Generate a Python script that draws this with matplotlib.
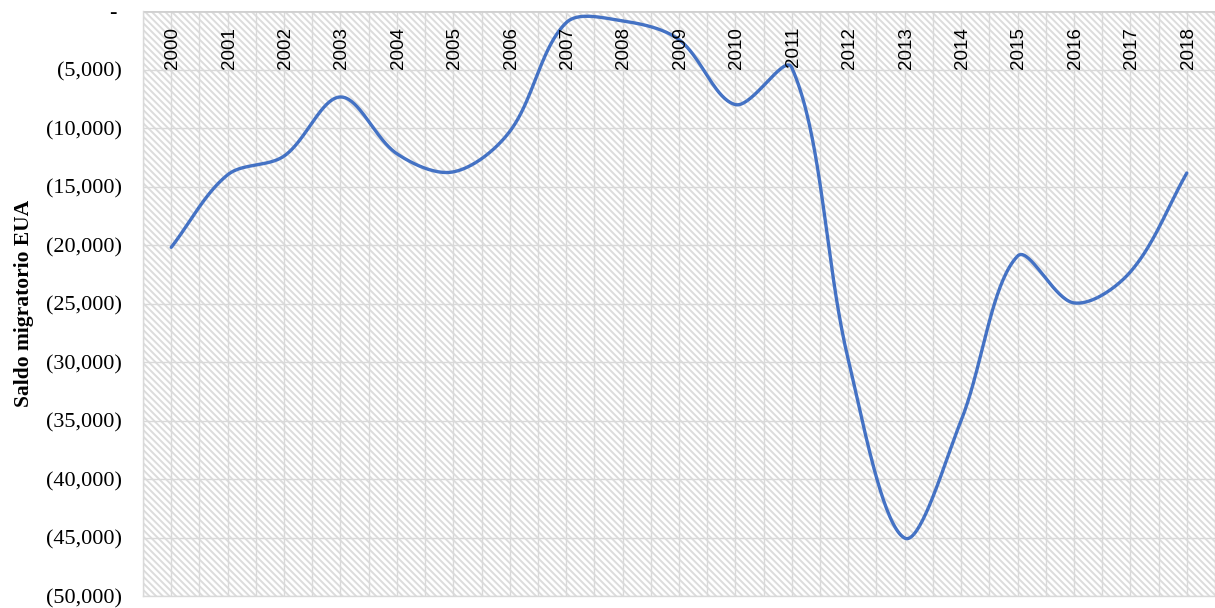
"""
Saldo migratorio EUA, 2000-2018: smoothed line over a hatched plot area.
"""

import numpy as np
import matplotlib.pyplot as plt
from matplotlib.patches import Rectangle
from matplotlib.ticker import FuncFormatter

years = [str(y) for y in range(2000, 2019)]
saldo = [-20200, -14000, -12400, -7350, -12200, -13750, -10300, -1000,
         -850, -2450, -8000, -4850, -29800, -45050, -35000, -20950,
         -24950, -22300, -13850]

LINE_COLOR = '#4472C4'
GRID_COLOR = '#d9d9d9'


def smooth(xs, ys, sx=56.4, sy=58.5 / 5000, steps=40):
    """Excel-like smoothing: Bezier segments, handles scaled by segment length."""
    p = np.column_stack([np.asarray(xs, float) * sx, np.asarray(ys, float) * sy])
    n = len(p)
    outc = np.zeros_like(p)
    inc = np.zeros_like(p)
    for i in range(n):
        prev = p[max(i - 1, 0)]
        nxt = p[min(i + 1, n - 1)]
        tan = nxt - prev
        a = np.linalg.norm(p[i] - prev)
        b = np.linalg.norm(nxt - p[i])
        if a + b == 0:
            continue
        outc[i] = p[i] + tan * b / (a + b) / 3
        inc[i] = p[i] - tan * a / (a + b) / 3
    t = np.linspace(0, 1, steps)[:, None]
    out = []
    for i in range(n - 1):
        p0, p1, p2, p3 = p[i], outc[i], inc[i + 1], p[i + 1]
        seg = ((1 - t) ** 3 * p0 + 3 * (1 - t) ** 2 * t * p1
               + 3 * (1 - t) * t ** 2 * p2 + t ** 3 * p3)
        out.append(seg if i == 0 else seg[1:])
    pts = np.vstack(out)
    return pts[:, 0] / sx, pts[:, 1] / sy


def fmt(v, pos):
    if abs(v) < 1e-6:
        return '-\u2009'
    return '({:,.0f})'.format(abs(v))


plt.rcParams['hatch.linewidth'] = 1.4

fig = plt.figure(figsize=(12.15, 6.08), dpi=100)
ax = fig.add_axes([143 / 1215, 12 / 608, 1 - 143 / 1215, 585 / 608])

xpos = np.arange(len(years))
ax.set_xlim(-0.5, len(years) - 0.5)
ax.set_ylim(-50000, 0)

# hatched plot area
ax.add_patch(Rectangle((0, 0), 1, 1, transform=ax.transAxes,
                       facecolor='white', edgecolor='#dcdcdc',
                       hatch='\\' * 5, lw=0, zorder=0))

# gridlines: every half category vertically, every 5,000 horizontally
for gx in np.arange(-0.5, len(years), 0.5):
    ax.axvline(gx, color=GRID_COLOR, lw=1.0, zorder=1)
for gy in np.arange(-50000, 1, 5000):
    ax.axhline(gy, color=GRID_COLOR, lw=1.0, zorder=1)
ax.axhline(0, color='#d0d0d0', lw=2.0, zorder=2)

sx, sy = smooth(xpos, saldo)
ax.plot(sx, sy, color=LINE_COLOR, lw=2.4, solid_capstyle='round', zorder=3)

for x, label in zip(xpos, years):
    ax.annotate(label, (x, 0), xytext=(1, -11.5),
                textcoords='offset points', rotation=90,
                ha='center', va='top', fontsize=13.5,
                family='Liberation Sans', zorder=4)

ax.set_xticks([])
ax.set_yticks(np.arange(-50000, 1, 5000))
ax.yaxis.set_major_formatter(FuncFormatter(fmt))
ax.tick_params(axis='y', length=0, pad=15, labelsize=16)
for lbl in ax.get_yticklabels():
    lbl.set_family('Liberation Serif')

for side in ['top', 'right']:
    ax.spines[side].set_visible(False)
for side in ['left', 'bottom']:
    ax.spines[side].set_color(GRID_COLOR)
    ax.spines[side].set_linewidth(1.0)

ax.set_ylabel('Saldo migratorio EUA', family='Liberation Serif',
              fontweight='bold', fontsize=15.5, labelpad=9)

fig.savefig('out.png', dpi=100)
